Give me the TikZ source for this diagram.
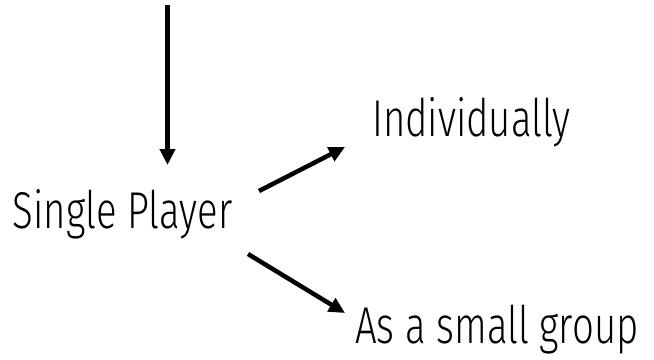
\documentclass[tikz,border=0pt]{standalone}
\usepackage{fontspec}
\setmainfont{Fira Sans Light}[FakeStretch=0.74]
\usetikzlibrary{arrows.meta}
\begin{document}
\begin{tikzpicture}[x=1bp,y=-1bp,
  lbl/.style={anchor=base west,inner sep=0pt,font=\fontsize{52}{56}\selectfont},
  arr/.style={line width=4.5bp,-{Triangle[length=16bp,width=15bp]}}]
\useasboundingbox (0,0) rectangle (654,359);
\coordinate (top) at (167.5,5);
\node[lbl] (sp) at (12.7,228.3) {Single Player};
\node[lbl] (ind) at (372,136.7) {Individually};
\node[lbl] (grp) at (355,343) {As a small group};
\coordinate (sptop) at (167.5,165);
\coordinate (a1s) at (259,191);
\coordinate (a1e) at (345,147);
\coordinate (a2s) at (248,254);
\coordinate (a2e) at (345,313);
\draw[arr] (top) -- (sptop);
\draw[arr] (a1s) -- (a1e);
\draw[arr] (a2s) -- (a2e);
\end{tikzpicture}
\end{document}
